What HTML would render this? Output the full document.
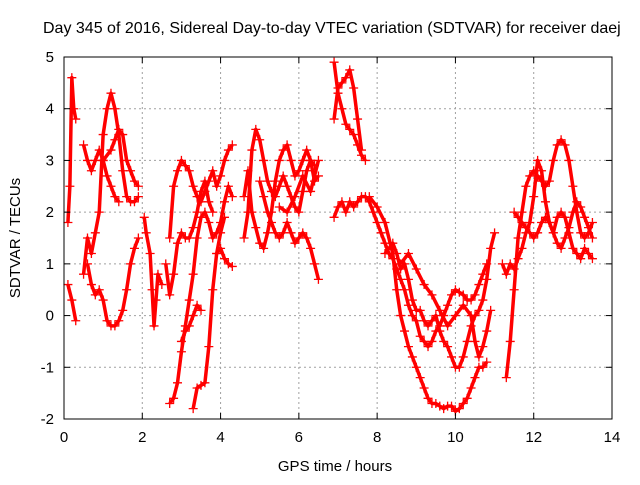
<!DOCTYPE html>
<html><head><meta charset="utf-8"><style>
body{margin:0;background:#fff}
svg text{font-family:"Liberation Sans",sans-serif;fill:#000}
</style></head><body>
<svg width="640" height="480" viewBox="0 0 640 480" xmlns="http://www.w3.org/2000/svg">
<g id="grid"></g>
<g id="marks"></g>
<rect x="64" y="57" width="548" height="362" fill="none" stroke="#000" stroke-width="1"/>
<g id="ticks"></g>
<text x="43" y="33" font-size="16">Day 345 of 2016, Sidereal Day-to-day VTEC variation (SDTVAR) for receiver daej</text>
<text x="335" y="471" font-size="15" text-anchor="middle">GPS time / hours</text>
<text transform="translate(20,238) rotate(-90)" font-size="15" text-anchor="middle">SDTVAR / TECUs</text>
</svg>
<script>
const xTicks=[0,2,4,6,8,10,12,14];
const yTicks=[-2,-1,0,1,2,3,4,5];
const tracks=[
[[0.1,0.6],[0.2,0.3],[0.3,-0.1]],
[[0.1,1.8],[0.15,2.5],[0.2,4.6],[0.25,4.0],[0.3,3.8]],
[[0.5,0.8],[0.6,1.5],[0.7,1.2],[0.8,1.6],[0.9,2.0],[1.0,3.5],[1.1,4.0],[1.2,4.3],[1.3,4.0],[1.4,3.5],[1.5,2.8],[1.6,2.3],[1.7,2.2],[1.8,2.2],[1.9,2.3]],
[[0.5,3.3],[0.6,3.0],[0.7,2.8],[0.8,3.0],[0.9,3.2],[1.0,3.0],[1.1,2.7],[1.2,2.5],[1.3,2.3],[1.4,2.2]],
[[0.6,1.0],[0.7,0.6],[0.8,0.4],[0.9,0.5],[1.0,0.3],[1.1,-0.1],[1.2,-0.2],[1.3,-0.2],[1.4,-0.1],[1.5,0.1],[1.6,0.5],[1.7,1.0],[1.8,1.3],[1.9,1.5]],
[[1.0,3.0],[1.2,3.2],[1.3,3.4],[1.4,3.6],[1.5,3.5],[1.6,3.0],[1.7,2.8],[1.8,2.6],[1.9,2.5]],
[[2.05,1.9],[2.1,1.6],[2.2,1.2],[2.25,0.5],[2.3,-0.2],[2.35,0.3],[2.4,0.8],[2.5,0.6]],
[[2.6,1.0],[2.7,0.4],[2.8,0.8],[2.9,1.4],[3.0,1.6],[3.1,1.5],[3.2,1.5],[3.3,1.7],[3.4,2.0],[3.5,2.4],[3.6,2.6],[3.7,2.2],[3.8,2.0]],
[[2.7,1.5],[2.8,2.5],[2.9,2.8],[3.0,3.0],[3.1,2.9],[3.2,2.8],[3.3,2.5],[3.4,2.3],[3.5,2.2],[3.6,2.4],[3.7,2.6],[3.8,2.8],[3.9,2.5],[4.0,2.7],[4.1,3.0],[4.2,3.2],[4.3,3.3]],
[[2.7,-1.7],[2.8,-1.6],[2.9,-1.3],[3.0,-0.7],[3.1,-0.2],[3.2,0.3],[3.3,0.8],[3.4,1.5],[3.5,1.9],[3.6,2.0],[3.7,1.8],[3.8,1.5],[3.9,1.6],[4.0,1.8],[4.1,2.2],[4.2,2.5],[4.3,2.3]],
[[3.3,-1.8],[3.4,-1.4],[3.5,-1.35],[3.6,-1.3],[3.7,-0.6],[3.8,0.5],[3.9,1.2],[4.0,1.6],[4.1,1.9]],
[[3.0,-0.5],[3.1,-0.3],[3.2,-0.2],[3.3,0],[3.4,0.2],[3.5,0.1]],
[[3.9,1.2],[4.0,1.3],[4.1,1.1],[4.2,1.0],[4.3,0.95]],
[[4.6,1.5],[4.7,2.0],[4.8,3.2],[4.9,3.6],[5.0,3.4],[5.1,3.0],[5.2,2.6],[5.3,2.4],[5.4,2.3],[5.5,2.5],[5.6,2.7],[5.7,2.5],[5.8,2.3],[5.9,2.1],[6.0,2.0],[6.1,2.4],[6.2,2.8],[6.3,3.0],[6.4,2.9]],
[[4.6,2.3],[4.7,2.8],[4.8,2.0],[4.9,1.7],[5.0,1.4],[5.1,1.3],[5.2,1.6],[5.3,2.0],[5.4,2.6],[5.5,3.0],[5.6,3.2],[5.7,3.3],[5.8,3.0],[5.9,2.7],[6.0,2.8],[6.1,3.0],[6.2,3.2],[6.3,3.0],[6.4,2.6],[6.5,2.7]],
[[5.0,2.6],[5.1,2.3],[5.2,2.0],[5.3,1.8],[5.4,1.6],[5.5,1.5],[5.6,1.6],[5.7,1.8],[5.8,1.6],[5.9,1.4],[6.0,1.5],[6.1,1.6],[6.2,1.5],[6.3,1.3],[6.4,1.0],[6.5,0.7]],
[[5.5,2.1],[5.7,2.0],[5.9,2.3],[6.1,2.7],[6.3,2.4],[6.5,3.0]],
[[6.9,4.9],[7.0,4.3],[7.1,4.0],[7.2,3.7],[7.3,3.6],[7.4,3.5],[7.5,3.3],[7.6,3.1],[7.7,3.0]],
[[6.9,3.8],[7.0,4.4],[7.1,4.5],[7.2,4.6],[7.3,4.75],[7.4,4.4],[7.5,3.8],[7.6,3.2]],
[[6.9,1.9],[7.0,2.1],[7.1,2.2],[7.2,2.0],[7.3,2.2],[7.4,2.1],[7.5,2.2],[7.6,2.3],[7.7,2.3],[7.8,2.2],[7.9,2.0],[8.0,1.8],[8.1,1.6],[8.2,1.4],[8.3,1.2],[8.4,1.1],[8.5,0.9],[8.6,0.7],[8.7,0.5],[8.8,0.2],[8.9,0.0],[9.0,-0.1],[9.1,-0.4],[9.2,-0.5],[9.3,-0.6],[9.4,-0.5],[9.5,-0.3],[9.6,-0.2],[9.7,0.0],[9.8,0.2],[9.9,0.4],[10.0,0.5],[10.1,0.45],[10.2,0.4],[10.3,0.3],[10.4,0.3],[10.5,0.4],[10.6,0.6],[10.7,0.8],[10.8,1.0]],
[[7.8,2.3],[8.0,2.1],[8.2,1.8],[8.4,1.2],[8.5,0.5],[8.6,0.0],[8.7,-0.3],[8.8,-0.6],[8.9,-0.8],[9.0,-1.0],[9.1,-1.2],[9.2,-1.4],[9.3,-1.6],[9.4,-1.7],[9.5,-1.7],[9.6,-1.75],[9.7,-1.8],[9.8,-1.75],[9.9,-1.75],[10.0,-1.85],[10.1,-1.8],[10.2,-1.7],[10.3,-1.6],[10.4,-1.4],[10.5,-1.2],[10.6,-1.0],[10.7,-1.0],[10.8,-0.9]],
[[8.2,1.2],[8.4,1.4],[8.5,1.2],[8.6,0.9],[8.7,1.0],[8.8,0.7],[8.9,0.3],[9.0,0.1],[9.1,0.1],[9.2,-0.1],[9.3,-0.2],[9.4,-0.1],[9.5,0.0],[9.6,-0.3],[9.7,-0.5],[9.8,-0.6],[9.9,-0.8],[10.0,-1.0],[10.1,-1.0],[10.2,-0.8],[10.3,-0.5],[10.4,-0.2],[10.5,0.0],[10.6,0.1],[10.7,0.3],[10.8,0.7],[10.9,1.3],[11.0,1.6]],
[[8.6,1.0],[8.8,1.2],[9.0,0.9],[9.2,0.6],[9.4,0.4],[9.6,0.1],[9.8,-0.2],[10.0,0.0],[10.2,0.2],[10.4,0.0],[10.5,-0.5],[10.6,-0.8],[10.7,-0.6],[10.8,-0.3],[10.9,0.1]],
[[11.3,-1.2],[11.4,-0.5],[11.5,0.5],[11.6,1.5],[11.7,2.0],[11.8,2.5],[11.9,2.7],[12.0,2.8],[12.1,2.7],[12.2,2.6],[12.3,2.5],[12.4,2.6],[12.5,3.0],[12.6,3.3],[12.7,3.4],[12.8,3.3],[12.9,3.0],[13.0,2.5],[13.1,2.0],[13.2,1.6],[13.3,1.5],[13.4,1.6],[13.5,1.8]],
[[11.2,1.0],[11.3,0.8],[11.4,1.0],[11.5,0.9],[11.6,1.1],[11.7,1.3],[11.8,1.6],[11.9,1.8],[12.0,2.3],[12.1,3.0],[12.2,2.8],[12.3,2.2],[12.4,1.8],[12.5,1.6],[12.6,1.4],[12.7,1.3],[12.8,1.5],[12.9,1.7],[13.0,2.0],[13.1,2.2],[13.2,2.1],[13.3,1.9],[13.4,1.7],[13.5,1.5]],
[[11.5,2.0],[11.6,1.9],[11.7,1.8],[11.8,1.7],[11.9,1.6],[12.0,1.5],[12.1,1.6],[12.2,1.8],[12.3,1.9],[12.4,1.8],[12.5,1.6],[12.6,1.9],[12.7,2.0],[12.8,1.9],[12.9,1.6],[13.0,1.3],[13.1,1.2],[13.2,1.1],[13.3,1.3],[13.4,1.2],[13.5,1.1]]
];
const NS='http://www.w3.org/2000/svg';
const X0=64,X1=612,Y0=419,Y1=57;
function sx(v){return X0+(v-0)/(14-0)*(X1-X0);}
function sy(v){return Y0-(v+2)/(5+2)*(Y0-Y1);}
function mk(t,a,p){const e=document.createElementNS(NS,t);for(const k in a)e.setAttribute(k,a[k]);p.appendChild(e);return e;}
const grid=document.getElementById('grid'),ticks=document.getElementById('ticks'),marks=document.getElementById('marks');
xTicks.forEach(v=>{const x=sx(v);
 if(v>0&&v<14){const l=mk('line',{x1:x,x2:x,y1:Y1,y2:Y0,stroke:'#a0a0a0','stroke-dasharray':'2,3'},grid);}
 mk('line',{x1:x,x2:x,y1:Y0,y2:Y0-6,stroke:'#000'},ticks);mk('line',{x1:x,x2:x,y1:Y1,y2:Y1+6,stroke:'#000'},ticks);
 const t=mk('text',{x:x,y:Y0+23,'font-size':15,'text-anchor':'middle'},ticks);t.textContent=v;
 });
yTicks.forEach(v=>{const y=sy(v);
 if(v>-2&&v<5){const l=mk('line',{x1:X0,x2:X1,y1:y,y2:y,stroke:'#a0a0a0','stroke-dasharray':'2,3'},grid);}
 mk('line',{x1:X0,x2:X0+6,y1:y,y2:y,stroke:'#000'},ticks);mk('line',{x1:X1,x2:X1-6,y1:y,y2:y,stroke:'#000'},ticks);
 const t=mk('text',{x:X0-10,y:y+5,'font-size':15,'text-anchor':'end'},ticks);t.textContent=v;
 });
tracks.forEach((tr,i)=>{
 const g=mk('g',{},marks);
 
 
 mk('polyline',{points:tr.map(p=>sx(p[0])+','+sy(p[1])).join(' '),fill:'none',stroke:'#f00','stroke-width':3.5,'stroke-linejoin':'round'},g);
 tr.forEach(p=>{const x=sx(p[0]),y=sy(p[1]);
  mk('path',{d:`M${x-4.5},${y}H${x+4.5}M${x},${y-4.5}V${y+4.5}`,stroke:'#f00','stroke-width':1.3},g);});
});
</script>
</body></html>
